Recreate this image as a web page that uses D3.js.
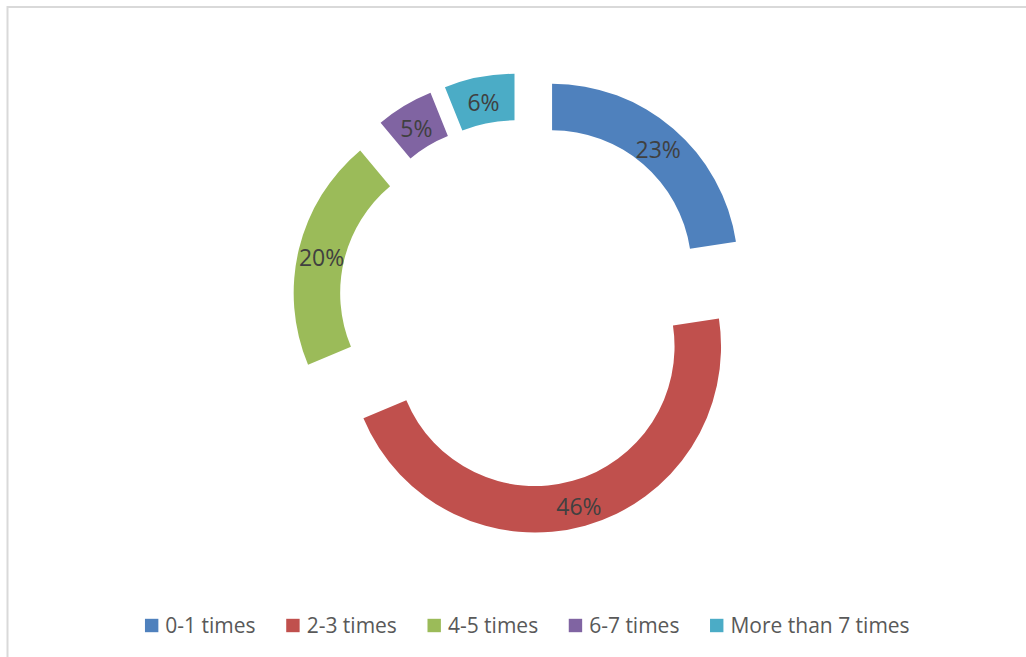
<!DOCTYPE html>
<html>
<head>
<meta charset="utf-8">
<script src="https://cdn.jsdelivr.net/npm/d3@7"></script>
<style>
  html, body { margin: 0; padding: 0; background: #ffffff; }
  svg { display: block; }
</style>
</head>
<body>
<svg id="chart" width="1026" height="657"></svg>
<script>
// ---- data ----
const categories = ["0-1 times", "2-3 times", "4-5 times", "6-7 times", "More than 7 times"];
const values = [22.6, 46.1, 20.2, 5.0, 6.1];
const colors = ["#4F81BD", "#C0504D", "#9BBB59", "#8064A2", "#4BACC6"];

// ---- layout ----
const W = 1026, H = 657;
const cx = 523, cy = 303.6;
const outerR = 186, innerR = 139.5;
const explode = 44.6;

const svg = d3.select("#chart");

// chart frame
svg.append("rect")
  .attr("x", 7.5).attr("y", 7)
  .attr("width", 1200).attr("height", 900)
  .attr("fill", "none")
  .attr("stroke", "#d9d9d9")
  .attr("stroke-width", 2);

const total = d3.sum(values);
const pie = d3.pie().sort(null).value(d => d.value).startAngle(0).endAngle(2 * Math.PI);
const arcs = pie(categories.map((c, i) => ({ cat: c, value: values[i], color: colors[i] })));
const arc = d3.arc().innerRadius(innerR).outerRadius(outerR);

const g = svg.append("g").attr("transform", `translate(${cx},${cy})`);

function offset(d) {
  const a = (d.startAngle + d.endAngle) / 2;
  return [Math.sin(a) * explode, -Math.cos(a) * explode];
}

const slice = g.selectAll("g.slice").data(arcs).join("g")
  .attr("class", "slice")
  .attr("transform", d => { const o = offset(d); return `translate(${o[0]},${o[1]})`; });

slice.append("path")
  .attr("d", arc)
  .attr("fill", d => d.data.color);

slice.append("text")
  .attr("transform", d => { const c = arc.centroid(d); return `translate(${c[0]},${c[1] + 3})`; })
  .attr("text-anchor", "middle")
  .attr("dy", "0.36em")
  .attr("font-family", "'Open Sans', sans-serif")
  .attr("font-size", 23)
  .attr("fill", "#404040")
  .text(d => Math.round(d.data.value / total * 100) + "%");

// ---- legend ----
const legend = svg.append("g");
const fs = 21, sq = 13.4, gapText = 7, gapItem = 30.6;
const items = legend.selectAll("g.item").data(categories).join("g").attr("class", "item");
items.append("rect")
  .attr("width", sq).attr("height", sq)
  .attr("y", 625.5 - sq / 2)
  .attr("fill", (d, i) => colors[i]);
items.append("text")
  .attr("y", 632.5)
  .attr("font-family", "'Open Sans', sans-serif")
  .attr("font-size", fs)
  .attr("fill", "#595959")
  .text(d => d);

let widths = [];
items.select("text").each(function () { widths.push(this.getComputedTextLength()); });
const totalW = d3.sum(widths) + categories.length * (sq + gapText) + (categories.length - 1) * gapItem;
let x = 527.3 - totalW / 2;
items.each(function (d, i) {
  const it = d3.select(this);
  it.select("rect").attr("x", x);
  it.select("text").attr("x", x + sq + gapText);
  x += sq + gapText + widths[i] + gapItem;
});
</script>
</body>
</html>
